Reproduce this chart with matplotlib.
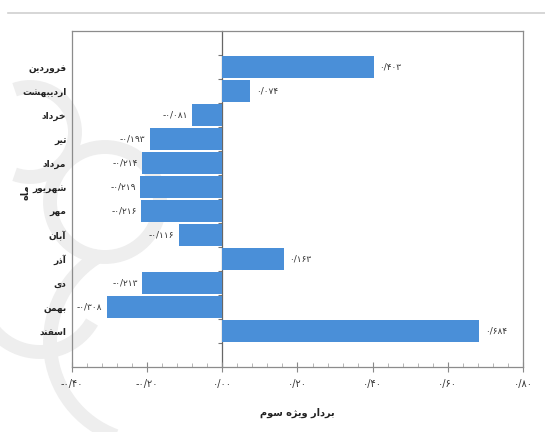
import numpy as np
import matplotlib
matplotlib.use('Agg')
import matplotlib.pyplot as plt
from matplotlib.lines import Line2D
from matplotlib.patches import Arc

plt.rcParams['font.family'] = ['DejaVu Sans']

# داده‌ها
months = ['فروردین', 'اردیبهشت', 'خرداد', 'تیر', 'مرداد', 'شهریور',
          'مهر', 'آبان', 'آذر', 'دی', 'بهمن', 'اسفند']
values = [0.403, 0.074, -0.081, -0.193, -0.214, -0.219,
          -0.216, -0.116, 0.163, -0.213, -0.308, 0.684]
x_ticks = [-0.4, -0.2, 0.0, 0.2, 0.4, 0.6, 0.8]
x_label = 'بردار ویژه سوم'
y_label = 'ماه'

# matplotlib متن فارسی را شکل‌دهی نمی‌کند؛ شکل حروف دستی انتخاب می‌شود
# (منفرد، پایانی، آغازی، میانی)
FORMS = {
    'ا': ('\uFE8D', '\uFE8E', None, None),
    'آ': ('\uFE81', '\uFE82', None, None),
    'ب': ('\uFE8F', '\uFE90', '\uFE91', '\uFE92'),
    'ت': ('\uFE95', '\uFE96', '\uFE97', '\uFE98'),
    'خ': ('\uFEA5', '\uFEA6', '\uFEA7', '\uFEA8'),
    'د': ('\uFEA9', '\uFEAA', None, None),
    'ذ': ('\uFEAB', '\uFEAC', None, None),
    'ر': ('\uFEAD', '\uFEAE', None, None),
    'ژ': ('\uFB8A', '\uFB8B', None, None),
    'س': ('\uFEB1', '\uFEB2', '\uFEB3', '\uFEB4'),
    'ش': ('\uFEB5', '\uFEB6', '\uFEB7', '\uFEB8'),
    'ف': ('\uFED1', '\uFED2', '\uFED3', '\uFED4'),
    'م': ('\uFEE1', '\uFEE2', '\uFEE3', '\uFEE4'),
    'ن': ('\uFEE5', '\uFEE6', '\uFEE7', '\uFEE8'),
    'ه': ('\uFEE9', '\uFEEA', '\uFEEB', '\uFEEC'),
    'و': ('\uFEED', '\uFEEE', None, None),
    'ی': ('\uFBFC', '\uFBFD', '\uFBFE', '\uFBFF'),
}


def fa(text):
    out = []
    for i, ch in enumerate(text):
        if ch not in FORMS:
            out.append(ch)
            continue
        prev = text[i - 1] if i > 0 else ''
        nxt = text[i + 1] if i + 1 < len(text) else ''
        join_prev = prev in FORMS and FORMS[prev][2] is not None
        join_next = nxt in FORMS and FORMS[ch][2] is not None
        iso, fin, ini, med = FORMS[ch]
        if join_prev and join_next:
            out.append(med)
        elif join_prev:
            out.append(fin)
        elif join_next:
            out.append(ini)
        else:
            out.append(iso)
    return ''.join(out)[::-1]


def fa_num(v, nd):
    s = f'{v:.{nd}f}'.replace('.', '/')
    return s.translate(str.maketrans('0123456789', '۰۱۲۳۴۵۶۷۸۹'))


fig = plt.figure(figsize=(5.45, 4.32), dpi=100)

# نقش کم‌رنگ پس‌زمینه (سمت چپ صفحه)
bg = dict(color='#eeeeee', lw=10, transform=None, zorder=0)
for cx, cy, w, t1, t2 in [(105, 230, 110, 0, 360), (40, 140, 120, 180, 330),
                          (150, 90, 200, 120, 250), (30, 300, 90, 250, 110)]:
    fig.add_artist(Arc((cx, cy), w, w, theta1=t1, theta2=t2, **bg))

ax = fig.add_axes([0.1321, 0.1505, 0.8275, 0.7777])
ax.set_facecolor('none')

y = np.arange(len(months))
bars = ax.barh(y, values, height=0.9, color='#4a8fd8', zorder=2)

for b, v in zip(bars, values):
    if v >= 0:
        ax.annotate(fa_num(v, 3), (v, b.get_y() + b.get_height() / 2),
                    xytext=(4, 0), textcoords='offset points',
                    ha='left', va='center', fontsize=6.5, color='#333333')
    else:
        ax.annotate(fa_num(v, 3), (v, b.get_y() + b.get_height() / 2),
                    xytext=(-3, 0), textcoords='offset points',
                    ha='right', va='center', fontsize=6.5, color='#333333')

ax.set_xlim(-0.4, 0.8)
ax.set_ylim(len(months) + 0.5, -1.5)

ax.set_xticks(x_ticks)
ax.set_xticklabels([fa_num(t, 2) for t in x_ticks], fontsize=7, color='#333333')
ax.set_xticks(np.arange(-0.4, 0.81, 0.04), minor=True)
ax.tick_params(axis='x', which='major', direction='inout', length=7,
               color='#888888', pad=5)
ax.tick_params(axis='x', which='minor', direction='in', length=3,
               color='#aaaaaa')

ax.set_yticks(y)
ax.set_yticklabels([fa(m) for m in months], fontsize=6.5, fontweight='bold',
                   color='#222222')
ax.tick_params(axis='y', length=0, pad=4)

for s in ax.spines.values():
    s.set_color('#8c8c8c')
    s.set_linewidth(0.9)

# محور عمودی در نقطه صفر با تیک در مرز دسته‌ها
xmin, xmax = ax.get_xlim()
zero = ax.secondary_yaxis((0 - xmin) / (xmax - xmin))
zero.set_yticks(np.arange(-0.5, len(months), 1.0))
zero.set_yticklabels([])
zero.tick_params(direction='out', length=3, color='#777777')
zero.spines['left'].set_color('#666666')
zero.spines['left'].set_linewidth(0.9)

ax.set_xlabel(fa(x_label), fontsize=7, fontweight='bold', labelpad=14,
              color='#222222')
fig.text(0.046, 0.555, fa(y_label), rotation=90, fontsize=7,
         fontweight='bold', ha='center', va='center', color='#222222')

# خط جداکننده بالای صفحه
fig.add_artist(Line2D([0.015, 1.0], [0.97, 0.97], color='#d0d0d0', lw=1.2))

fig.savefig('out.png', dpi=100, facecolor='white')
